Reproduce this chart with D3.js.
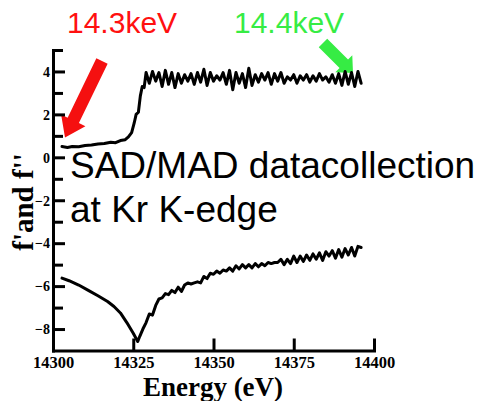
<!DOCTYPE html>
<html>
<head>
<meta charset="utf-8">
<script src="https://cdn.jsdelivr.net/npm/d3@7"></script>
<style>
  html, body { margin: 0; padding: 0; background: #fff; }
  svg { display: block; }
</style>
</head>
<body>
<svg id="chart" width="483" height="401"></svg>
<script>
// ---------- data ----------
const energyTop = [
  14302.8, 14304.5, 14306, 14308, 14310, 14312, 14314, 14316, 14318, 14319.5,
  14321, 14322.5, 14323.5, 14324.5, 14325.3, 14325.9, 14326.6, 14327.2, 14327.8, 14328.4,
  14329, 14330, 14331, 14332, 14333, 14334, 14335, 14336, 14337, 14338,
  14339, 14340, 14341, 14342, 14343, 14344, 14345, 14346, 14347, 14348,
  14349, 14350, 14351, 14352, 14353, 14354, 14355, 14356, 14357, 14358,
  14359, 14360, 14361, 14362, 14363, 14364, 14365, 14366, 14367, 14368,
  14369, 14370, 14371, 14372, 14373, 14374, 14375, 14376, 14377, 14378,
  14379, 14380, 14381, 14382, 14383, 14384, 14385, 14386, 14387, 14388,
  14389, 14390, 14391, 14392, 14393, 14394, 14395, 14396
];
const fDoublePrime = [
  0.50, 0.46, 0.50, 0.49, 0.55, 0.57, 0.62, 0.64, 0.70, 0.68,
  0.78, 0.82, 0.95, 1.15, 1.60, 2.00, 2.10, 2.85, 3.30, 3.25,
  3.95, 3.45, 4.00, 3.55, 3.95, 3.30, 4.05, 3.40, 3.95, 3.25,
  3.90, 3.45, 3.85, 3.55, 3.90, 3.40, 3.95, 3.50, 4.10, 3.35,
  3.95, 3.55, 3.80, 3.60, 3.95, 3.40, 4.05, 3.15, 3.95, 3.45,
  3.90, 3.25, 4.15, 3.35, 3.85, 3.50, 3.90, 3.60, 3.95, 3.40,
  3.90, 3.55, 3.95, 3.45, 3.75, 3.60, 3.85, 3.45, 3.80, 3.60,
  3.85, 3.50, 3.80, 3.55, 3.90, 3.60, 3.75, 3.50, 3.85, 3.45,
  3.90, 3.35, 4.00, 3.40, 3.95, 3.30, 4.00, 3.45
];

const energyBottom = [
  14302.8, 14305, 14308, 14311, 14314, 14317, 14319, 14321, 14323, 14325,
  14326.4, 14327, 14328, 14329, 14330, 14331, 14332, 14333, 14334, 14335,
  14336, 14337, 14338, 14339, 14340, 14341, 14342, 14343, 14344, 14345,
  14346, 14347, 14348, 14349, 14350, 14351, 14352, 14353, 14354, 14355,
  14356, 14357, 14358, 14359, 14360, 14361, 14362, 14363, 14364, 14365,
  14366, 14367, 14368, 14369, 14370, 14371, 14372, 14373, 14374, 14375,
  14376, 14377, 14378, 14379, 14380, 14381, 14382, 14383, 14384, 14385,
  14386, 14387, 14388, 14389, 14390, 14391, 14392, 14393, 14394, 14395,
  14396
];
const fPrime = [
  -5.63, -5.75, -5.95, -6.20, -6.45, -6.72, -6.95, -7.25, -7.70, -8.20,
  -8.58, -8.35, -8.00, -7.70, -7.30, -7.35, -6.90, -6.60, -6.55, -6.35,
  -6.40, -6.20, -6.30, -6.05, -6.25, -5.95, -5.85, -5.90, -5.85, -5.80,
  -5.85, -5.55, -5.65, -5.40, -5.45, -5.30, -5.40, -5.25, -5.30, -5.15,
  -5.30, -5.05, -5.20, -5.00, -5.15, -5.00, -5.15, -4.95, -5.10, -4.95,
  -5.05, -4.90, -4.95, -4.90, -4.90, -4.75, -5.00, -4.75, -4.95, -4.60,
  -4.90, -4.60, -4.85, -4.55, -4.80, -4.50, -4.75, -4.45, -4.80, -4.40,
  -4.60, -4.35, -4.70, -4.30, -4.65, -4.25, -4.55, -4.20, -4.60, -4.15,
  -4.20
];

const xTickValues = [14300, 14325, 14350, 14375, 14400];
const yTickValues = [-8, -6, -4, -2, 0, 2, 4];
const yMinorTickValues = [-7, -5, -3, -1, 1, 3, 5];

const xTitle = "Energy (eV)";
const yTitle = "f'and f''";
const labelLow = "14.3keV";
const labelHigh = "14.4keV";
const noteLines = ["SAD/MAD datacollection", "at Kr K-edge"];

// ---------- drawing ----------
const svg = d3.select("#chart");
svg.append("rect").attr("width", 483).attr("height", 401).attr("fill", "#fff");

const x = d3.scaleLinear().domain([14300, 14400]).range([53, 374]);
const y = d3.scaleLinear().domain([-9, 5]).range([350.5, 50]);

const serif = "'Liberation Serif', 'Times New Roman', serif";
const sans = "'Liberation Sans', Arial, sans-serif";

// arrows (drawn under the curves)
function arrow(tail, tip, shaftW, headLen, headW, color) {
  const dx = tip[0] - tail[0], dy = tip[1] - tail[1];
  const L = Math.hypot(dx, dy);
  const ux = dx / L, uy = dy / L, px = -uy, py = ux;
  const bx = tip[0] - ux * headLen, by = tip[1] - uy * headLen;
  const pts = [
    [tail[0] + px * shaftW / 2, tail[1] + py * shaftW / 2],
    [bx + px * shaftW / 2, by + py * shaftW / 2],
    [bx + px * headW / 2, by + py * headW / 2],
    tip,
    [bx - px * headW / 2, by - py * headW / 2],
    [bx - px * shaftW / 2, by - py * shaftW / 2],
    [tail[0] - px * shaftW / 2, tail[1] - py * shaftW / 2]
  ];
  svg.append("polygon").attr("points", pts.map(p => p.join(",")).join(" ")).attr("fill", color);
}
arrow([102, 61], [65, 137.5], 12.5, 19, 27, "#f51010");
arrow([323, 43], [353, 73], 12, 13, 24, "#36ec44");

// axes
const gx = svg.append("g").attr("transform", `translate(0,${y(-9)})`)
  .call(d3.axisBottom(x).tickValues(xTickValues).tickSize(-12).tickSizeOuter(0).tickFormat(d3.format("d")));
const gy = svg.append("g").attr("transform", `translate(${x(14300)},0)`)
  .call(d3.axisLeft(y).tickValues(yTickValues).tickSize(-12).tickSizeOuter(0).tickFormat(d3.format("d")));
const gyMinor = svg.append("g").attr("transform", `translate(${x(14300)},0)`)
  .call(d3.axisLeft(y).tickValues(yMinorTickValues).tickSize(-10).tickSizeOuter(0).tickFormat(""));
gyMinor.select(".domain").remove();

[gx, gy, gyMinor].forEach(g => {
  g.selectAll(".domain").attr("stroke", "#000").attr("stroke-width", 3).attr("stroke-linecap", "square");
  g.selectAll(".tick line").attr("stroke", "#000").attr("stroke-width", 3);
});
gx.selectAll(".tick text")
  .attr("y", 17).attr("dy", "0")
  .attr("font-family", serif).attr("font-weight", "bold").attr("font-size", 16.5).attr("fill", "#000");
gy.selectAll(".tick text")
  .attr("x", -3).attr("dy", "0.34em")
  .attr("font-family", serif).attr("font-weight", "bold").attr("font-size", 14).attr("fill", "#000");

// curves
const line = d3.line().x(d => x(d[0])).y(d => y(d[1]));
const topData = energyTop.map((e, i) => [e, fDoublePrime[i]]);
const bottomData = energyBottom.map((e, i) => [e, fPrime[i]]);
[topData, bottomData].forEach(data => {
  svg.append("path").datum(data).attr("d", line)
    .attr("fill", "none").attr("stroke", "#000").attr("stroke-width", 3)
    .attr("stroke-linejoin", "round").attr("stroke-linecap", "round");
});

// titles
svg.append("text").attr("x", 213).attr("y", 396).attr("text-anchor", "middle")
  .attr("font-family", serif).attr("font-weight", "bold").attr("font-size", 27).text(xTitle);
svg.append("text").attr("transform", "translate(33,202) rotate(-90)").attr("text-anchor", "middle")
  .attr("font-family", serif).attr("font-weight", "bold").attr("font-size", 29).text(yTitle);

// annotations
svg.append("text").attr("x", 67).attr("y", 33).attr("font-family", sans).attr("font-size", 30)
  .attr("fill", "#ff1010").text(labelLow);
svg.append("text").attr("x", 234).attr("y", 33).attr("font-family", sans).attr("font-size", 30)
  .attr("fill", "#36ec44").text(labelHigh);
noteLines.forEach((t, i) => {
  svg.append("text").attr("x", 70).attr("y", 178 + i * 44).attr("font-family", sans)
    .attr("font-size", 37).attr("fill", "#000").text(t);
});
</script>
</body>
</html>
